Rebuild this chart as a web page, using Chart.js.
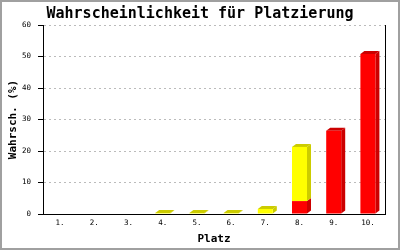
<!DOCTYPE html>
<html>
<head>
<meta charset="utf-8">
<script src="https://cdn.jsdelivr.net/npm/chart.js@4"></script>
<style>
  html, body { margin: 0; padding: 0; background: #fff; }
  #wrap { width: 400px; height: 250px; position: relative; }
</style>
</head>
<body>
<div id="wrap"><canvas id="chart" width="400" height="250"></canvas></div>
<script>
const places = ['1.', '2.', '3.', '4.', '5.', '6.', '7.', '8.', '9.', '10.'];
const redValues = [0, 0, 0, 0, 0, 0, 0, 4.1, 26.4, 50.8];
const yellowValues = [0, 0, 0, 0.3, 0.3, 0.3, 1.6, 17.2, 0, 0];
const yTicks = [0, 10, 20, 30, 40, 50, 60];

const MONO = '"DejaVu Sans Mono", monospace';
const DEPTH_X = 4, DEPTH_Y = 3;

// fake 3d: side and top faces behind the front faces
const extrude = {
  id: 'extrude',
  beforeDatasetsDraw(chart) {
    const ctx = chart.ctx;
    const sets = chart.data.datasets;
    ctx.save();
    sets.forEach((ds, di) => {
      const meta = chart.getDatasetMeta(di);
      meta.data.forEach((bar, i) => {
        if (!ds.data[i]) return;
        const left = bar.x - bar.width / 2, right = bar.x + bar.width / 2;
        const top = Math.min(bar.y, bar.base), bottom = Math.max(bar.y, bar.base);
        const onTop = !sets.slice(di + 1).some(s => s.data[i]);
        ctx.fillStyle = ds.sideColor;
        ctx.beginPath();
        ctx.moveTo(right, bottom);
        ctx.lineTo(right, top);
        ctx.lineTo(right + DEPTH_X, top - DEPTH_Y);
        ctx.lineTo(right + DEPTH_X, bottom - DEPTH_Y);
        ctx.closePath();
        ctx.fill();
        if (onTop) {
          ctx.beginPath();
          ctx.moveTo(left, top);
          ctx.lineTo(left + DEPTH_X, top - DEPTH_Y);
          ctx.lineTo(right + DEPTH_X, top - DEPTH_Y);
          ctx.lineTo(right, top);
          ctx.closePath();
          ctx.fill();
        }
      });
    });
    ctx.restore();
  },
  afterDraw(chart) {
    const ctx = chart.ctx, a = chart.chartArea;
    ctx.save();
    ctx.strokeStyle = '#000';
    ctx.lineWidth = 1;
    ctx.beginPath();
    ctx.moveTo(Math.round(a.right) + 0.5, a.top);
    ctx.lineTo(Math.round(a.right) + 0.5, a.bottom);
    ctx.stroke();
    ctx.strokeStyle = '#a0a0a0';
    ctx.lineWidth = 2;
    ctx.strokeRect(1, 1, chart.width - 2, chart.height - 2);
    ctx.restore();
  }
};

new Chart(document.getElementById('chart'), {
  type: 'bar',
  data: {
    labels: places,
    datasets: [
      { data: redValues, backgroundColor: '#ff0000', sideColor: '#cc0000', barThickness: 15, inflateAmount: 0 },
      { data: yellowValues, backgroundColor: '#ffff00', sideColor: '#cccc00', barThickness: 15, inflateAmount: 0 }
    ]
  },
  options: {
    responsive: false,
    animation: false,
    layout: { padding: 0 },
    plugins: {
      legend: { display: false },
      tooltip: { enabled: false },
      title: {
        display: true,
        text: 'Wahrscheinlichkeit für Platzierung',
        color: '#000',
        font: { family: MONO, size: 15, weight: 'bold' },
        padding: { top: 5, bottom: 2 }
      }
    },
    scales: {
      x: {
        stacked: true,
        grid: { display: false, drawTicks: false },
        border: { color: '#000', width: 1 },
        ticks: { color: '#000', font: { family: MONO, size: 7.5 }, padding: 5, maxRotation: 0 },
        title: {
          display: true, text: 'Platz', color: '#000',
          font: { family: MONO, size: 11, weight: 'bold' },
          padding: { top: 0, bottom: 4 }
        },
        afterFit(scale) { scale.height = 36; scale.paddingRight = 15; }
      },
      y: {
        stacked: true,
        min: 0, max: 60,
        afterBuildTicks(scale) { scale.ticks = yTicks.map(v => ({ value: v })); },
        grid: { color: '#bbb', tickColor: '#000', tickLength: 5, tickBorderDash: [] },
        border: { color: '#000', width: 1, dash: [2, 3] },
        ticks: { color: '#000', font: { family: MONO, size: 7.5 }, padding: 7 },
        title: {
          display: true, text: 'Wahrsch. (%)', color: '#000',
          font: { family: MONO, size: 11, weight: 'bold' },
          padding: { top: 7, bottom: 0 }
        },
        afterFit(scale) { scale.width = 43; }
      }
    }
  },
  plugins: [extrude]
});
</script>
</body>
</html>
